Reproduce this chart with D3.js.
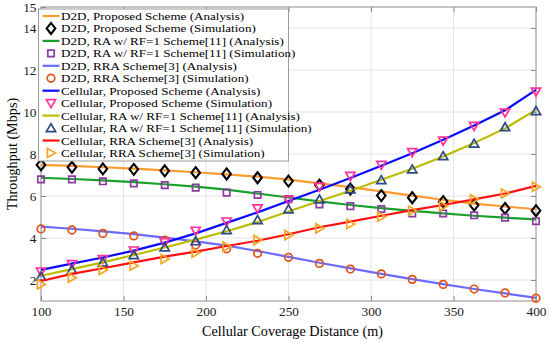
<!DOCTYPE html>
<html>
<head>
<meta charset="utf-8">
<script src="https://cdn.jsdelivr.net/npm/d3@7"></script>
<style>
  body { margin: 0; background: #fff; }
  text { font-family: "Liberation Serif", "Times New Roman", serif; }
</style>
</head>
<body>
<svg id="chart" width="550" height="342"></svg>
<script>
// distance samples (m)
var distance = [100, 118.75, 137.5, 156.25, 175, 193.75, 212.5, 231.25, 250,
  268.75, 287.5, 306.25, 325, 343.75, 362.5, 381.25, 400];

// throughput (Mbps)
var d2dPropAna = [7.48, 7.43, 7.37, 7.3, 7.22, 7.13, 7.03, 6.92, 6.78, 6.6, 6.42, 6.22, 6.02, 5.82, 5.64, 5.5, 5.37];
var d2dPropSim = [7.48, 7.37, 7.29, 7.27, 7.2, 7.11, 7.05, 6.87, 6.71, 6.52, 6.33, 6.02, 5.92, 5.73, 5.57, 5.41, 5.3];
var d2dRaAna = [6.87, 6.81, 6.74, 6.66, 6.56, 6.45, 6.3, 6.12, 5.93, 5.74, 5.57, 5.42, 5.29, 5.17, 5.06, 4.97, 4.89];
var d2dRaSim = [6.79, 6.79, 6.7, 6.6, 6.52, 6.4, 6.16, 6.05, 5.85, 5.6, 5.52, 5.38, 5.17, 5.17, 5.08, 4.97, 4.8];
var d2dRraAna = [4.54, 4.44, 4.32, 4.18, 4.02, 3.84, 3.64, 3.38, 3.1, 2.82, 2.55, 2.29, 2.04, 1.8, 1.57, 1.36, 1.15];
var d2dRraSim = [4.43, 4.38, 4.22, 4.1, 3.9, 3.67, 3.48, 3.27, 3.08, 2.79, 2.52, 2.29, 2.03, 1.79, 1.57, 1.38, 1.13];
var cellPropAna = [2.48, 2.78, 3.07, 3.4, 3.78, 4.22, 4.72, 5.22, 5.76, 6.3, 6.86, 7.44, 8.04, 8.68, 9.36, 10.08, 11.05];
var cellPropSim = [2.4, 2.75, 2.99, 3.4, 3.8, 4.34, 4.78, 5.41, 5.81, 6.44, 6.95, 7.48, 8.08, 8.63, 9.33, 9.97, 10.97];
var cellRaAna = [2.2, 2.52, 2.84, 3.19, 3.55, 3.92, 4.32, 4.76, 5.26, 5.76, 6.25, 6.77, 7.3, 7.88, 8.52, 9.22, 10.1];
var cellRaSim = [2.16, 2.48, 2.83, 3.19, 3.56, 3.85, 4.38, 4.86, 5.37, 5.84, 6.32, 6.76, 7.27, 7.9, 8.5, 9.28, 10.05];
var cellRraAna = [1.95, 2.29, 2.56, 2.84, 3.11, 3.35, 3.62, 3.87, 4.18, 4.51, 4.78, 5.06, 5.33, 5.57, 5.84, 6.12, 6.48];
var cellRraSim = [1.79, 2.11, 2.48, 2.68, 3.0, 3.3, 3.59, 3.9, 4.14, 4.46, 4.67, 5.02, 5.3, 5.52, 5.84, 6.12, 6.44];

var xTicks = [100, 150, 200, 250, 300, 350, 400];
var yTicks = [2, 4, 6, 8, 10, 12, 14, 15];

var labels = [
  "D2D, Proposed Scheme (Analysis)",
  "D2D, Proposed Scheme (Simulation)",
  "D2D, RA w/ RF=1 Scheme[11] (Analysis)",
  "D2D, RA w/ RF=1 Scheme[11] (Simulation)",
  "D2D, RRA Scheme[3] (Analysis)",
  "D2D, RRA Scheme[3] (Simulation)",
  "Cellular, Proposed Scheme (Analysis)",
  "Cellular, Proposed Scheme (Simulation)",
  "Cellular, RA w/ RF=1 Scheme[11] (Analysis)",
  "Cellular, RA w/ RF=1 Scheme[11] (Simulation)",
  "Cellular, RRA Scheme[3] (Analysis)",
  "Cellular, RRA Scheme[3] (Simulation)"
];

// each entry: values, kind, colour, marker
var series = [
  { v: d2dPropAna, type: "line", color: "#ff9a2e" },
  { v: d2dPropSim, type: "mark", color: "#000000", marker: "diamond" },
  { v: d2dRaAna, type: "line", color: "#17a02a" },
  { v: d2dRaSim, type: "mark", color: "#8a3aa0", marker: "square" },
  { v: d2dRraAna, type: "line", color: "#6b6bff" },
  { v: d2dRraSim, type: "mark", color: "#e0521a", marker: "circle" },
  { v: cellPropAna, type: "line", color: "#0a0aff" },
  { v: cellPropSim, type: "mark", color: "#ff3399", marker: "down" },
  { v: cellRaAna, type: "line", color: "#bdbd00" },
  { v: cellRaSim, type: "mark", color: "#2c4a86", marker: "up" },
  { v: cellRraAna, type: "line", color: "#ff1010" },
  { v: cellRraSim, type: "mark", color: "#f5a623", marker: "right" }
];

var margin = { top: 7, right: 14, bottom: 41, left: 41 };
var width = 550 - margin.left - margin.right;
var height = 342 - margin.top - margin.bottom;

var svg = d3.select("#chart");
var g = svg.append("g").attr("transform", `translate(${margin.left},${margin.top})`);

var x = d3.scaleLinear().domain([100, 400]).range([0, width]);
var y = d3.scaleLinear().domain([1, 15]).range([height, 0]);

// grid
g.append("g").selectAll("line").data(xTicks.slice(1, -1)).enter().append("line")
  .attr("x1", d => x(d)).attr("x2", d => x(d))
  .attr("y1", 0).attr("y2", height)
  .attr("stroke", "#e4e4e4").attr("stroke-width", 1);
g.append("g").selectAll("line").data(yTicks.filter(d => d < 15)).enter().append("line")
  .attr("y1", d => y(d)).attr("y2", d => y(d))
  .attr("x1", 0).attr("x2", width)
  .attr("stroke", "#e4e4e4").attr("stroke-width", 1);

// axes (ticks inward, like MATLAB)
var axisColor = "#8c8c8c";
function styleAxis(sel) {
  sel.select(".domain").remove();
  sel.selectAll(".tick line").attr("stroke", axisColor);
  sel.selectAll(".tick text").attr("fill", "#1a1a1a").style("font-size", "13.3px")
    .style("font-family", "'Liberation Serif', serif");
}
g.append("g").attr("transform", `translate(0,${height})`)
  .call(d3.axisBottom(x).tickValues(xTicks).tickSize(-5).tickPadding(6))
  .call(styleAxis);
g.append("g")
  .call(d3.axisTop(x).tickValues(xTicks).tickSize(-5).tickFormat(""))
  .call(styleAxis);
g.append("g")
  .call(d3.axisLeft(y).tickValues(yTicks).tickSize(-5).tickPadding(4.5))
  .call(styleAxis);
g.append("g").attr("transform", `translate(${width},0)`)
  .call(d3.axisRight(y).tickValues(yTicks.filter(d => d < 15)).tickSize(-5).tickFormat(""))
  .call(styleAxis);

g.append("rect").attr("width", width).attr("height", height)
  .attr("fill", "none").attr("stroke", axisColor).attr("stroke-width", 1);

// marker shapes
function markerPath(kind) {
  switch (kind) {
    case "diamond": return "M0,-5.5L4.3,0L0,5.5L-4.3,0Z";
    case "square": return "M-3.2,-3.2H3.2V3.2H-3.2Z";
    case "circle": return "M3.8,0A3.8,3.8 0 1,1 -3.8,0A3.8,3.8 0 1,1 3.8,0Z";
    case "down": return "M-4.6,-3.6L4.6,-3.6L0,4.4Z";
    case "up": return "M-4.6,3.6L4.6,3.6L0,-4.4Z";
    case "right": return "M-3.6,-4.6L-3.6,4.6L4.4,0Z";
  }
}

var line = d3.line().x((d, i) => x(distance[i])).y(d => y(d));

series.forEach(function (s) {
  if (s.type === "line") {
    g.append("path").datum(s.v)
      .attr("d", line)
      .attr("fill", "none")
      .attr("stroke", s.color)
      .attr("stroke-width", 2.2);
  } else {
    g.append("g").selectAll("path").data(s.v).enter().append("path")
      .attr("transform", (d, i) => `translate(${x(distance[i])},${y(d)})`)
      .attr("d", markerPath(s.marker))
      .attr("fill", "none")
      .attr("stroke", s.color)
      .attr("stroke-width", s.marker === "diamond" ? 2.1 : 1.7);
  }
});

// legend
var legend = svg.append("g").attr("transform", "translate(38.5,9)");
legend.append("rect")
  .attr("width", 250).attr("height", 152)
  .attr("fill", "#fff").attr("stroke", "#9a9a9a").attr("stroke-width", 1);

var rows = legend.selectAll("g.row").data(series).enter().append("g")
  .attr("transform", (d, i) => `translate(0,${7 + i * 12.45})`);
rows.each(function (s) {
  var r = d3.select(this);
  if (s.type === "line") {
    r.append("line").attr("x1", 4).attr("x2", 21).attr("y1", 0).attr("y2", 0)
      .attr("stroke", s.color).attr("stroke-width", 2.2);
  } else {
    r.append("path").attr("transform", "translate(12.5,0)")
      .attr("d", markerPath(s.marker))
      .attr("fill", "none").attr("stroke", s.color)
      .attr("stroke-width", s.marker === "diamond" ? 2.1 : 1.7);
  }
});
// the source font is wide and short, so stretch the text horizontally
rows.append("text")
  .attr("transform", "translate(22.5,4) scale(1.17,1)")
  .style("font-size", "11.2px")
  .attr("fill", "#000")
  .text((d, i) => labels[i]);

// axis titles
svg.append("text")
  .attr("x", margin.left + width / 2 + 4).attr("y", 336)
  .attr("text-anchor", "middle")
  .style("font-size", "14.2px")
  .text("Cellular Coverage Distance (m)");
svg.append("text")
  .attr("transform", `translate(17,${margin.top + height / 2}) rotate(-90)`)
  .attr("text-anchor", "middle")
  .style("font-size", "14.2px")
  .text("Throughput (Mbps)");
</script>
</body>
</html>
